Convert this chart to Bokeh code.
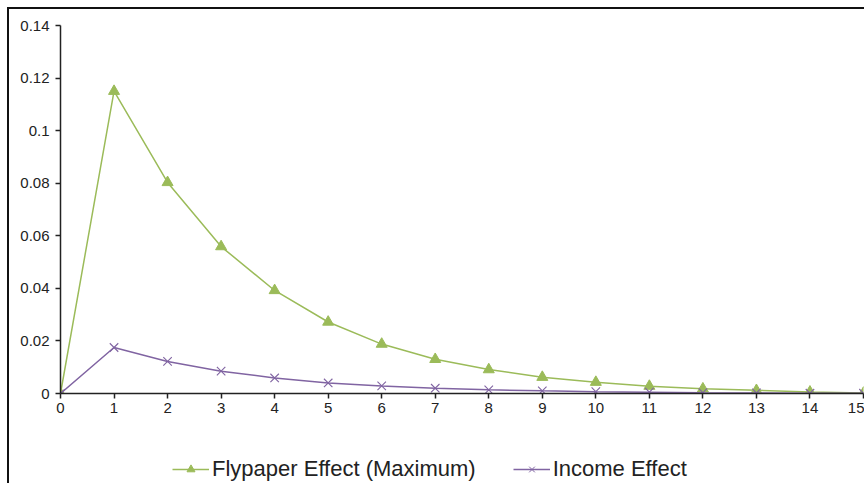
from bokeh.plotting import figure
from bokeh.layouts import column
from bokeh.models import Range1d, FixedTicker, Legend, LegendItem
from bokeh.embed import file_html
from bokeh.resources import INLINE

periods = list(range(16))
flypaper = [0.0, 0.115, 0.0803, 0.0559, 0.0392, 0.0272, 0.0188, 0.0130, 0.0091,
            0.0062, 0.0043, 0.0028, 0.0018, 0.0012, 0.0006, 0.0002]
income = [0.0, 0.0175, 0.0122, 0.0085, 0.0059, 0.0040, 0.0029, 0.0020, 0.0014,
          0.0010, 0.0007, 0.0005, 0.0003, 0.0002, 0.0001, 0.0001]
y_ticks = [0, 0.02, 0.04, 0.06, 0.08, 0.1, 0.12, 0.14]
y_tick_labels = ["0", "0.02", "0.04", "0.06", "0.08", "0.1", "0.12", "0.14"]
series_names = ["Flypaper Effect (Maximum)", "Income Effect"]

GREEN = "#9BBB59"
PURPLE = "#8064A2"
FONT = "Liberation Sans"
EDGE = "2px solid #111"

# main chart
p = figure(width=857, height=414, output_backend="svg", toolbar_location=None,
           x_range=Range1d(0, 15), y_range=Range1d(0, 0.14),
           min_border_left=51, min_border_right=3, min_border_top=16,
           min_border_bottom=30, margin=(7, 0, 0, 7),
           styles={"border-top": EDGE, "border-left": EDGE})

p.outline_line_color = None
p.xgrid.visible = False
p.ygrid.visible = False
p.background_fill_color = "white"
p.border_fill_color = "white"

for ax in (p.xaxis[0], p.yaxis[0]):
    ax.axis_line_color = "#222"
    ax.axis_line_width = 1.5
    ax.major_tick_line_color = "#222"
    ax.major_tick_line_width = 1.5
    ax.major_tick_out = 5
    ax.major_tick_in = 0
    ax.minor_tick_line_color = None
    ax.major_label_text_font = FONT
    ax.major_label_text_font_size = "15px"
    ax.major_label_text_color = "#222"

p.xaxis.ticker = FixedTicker(ticks=periods)
p.xaxis.major_label_standoff = 4
p.yaxis.ticker = FixedTicker(ticks=y_ticks)
p.yaxis.major_label_overrides = {t: s for t, s in zip(y_ticks, y_tick_labels)}
p.yaxis.major_label_standoff = 6

p.line(periods, flypaper, line_color=GREEN, line_width=1.5)
p.scatter(periods, flypaper, marker="triangle", size=11,
          fill_color=GREEN, line_color=GREEN)
p.line(periods, income, line_color=PURPLE, line_width=1.5)
p.scatter(periods, income, marker="x", size=12,
          line_color=PURPLE, line_width=1.1)

# legend strip underneath the chart; its key glyphs sit outside the visible range
lg = figure(width=857, height=62, output_backend="svg", toolbar_location=None,
            x_range=Range1d(0, 1), y_range=Range1d(0, 1),
            x_axis_location=None, y_axis_location=None,
            min_border=0, margin=(0, 0, 0, 7), styles={"border-left": EDGE})
lg.outline_line_color = None
lg.xgrid.visible = False
lg.ygrid.visible = False

off = [-5, -4]
k_fl_line = lg.line(off, off, line_color=GREEN, line_width=1.5)
k_fl_mark = lg.scatter(off, off, marker="triangle", size=8,
                       fill_color=GREEN, line_color=GREEN)
k_in_line = lg.line(off, off, line_color=PURPLE, line_width=1.5)
k_in_mark = lg.scatter(off, off, marker="x", size=8,
                       line_color=PURPLE, line_width=1.0)

legend = Legend(items=[
    LegendItem(label=series_names[0], renderers=[k_fl_line, k_fl_mark]),
    LegendItem(label=series_names[1], renderers=[k_in_line, k_in_mark]),
], orientation="horizontal", location=(112, 1))
legend.label_text_font = FONT
legend.label_text_font_size = "22px"
legend.label_text_color = "#222"
legend.border_line_color = None
legend.background_fill_alpha = 0
legend.glyph_width = 37
legend.label_standoff = 3
legend.spacing = 37
legend.padding = 0
lg.add_layout(legend, "center")

layout = column(p, lg, spacing=0)
open("out.html", "w").write(file_html(layout, INLINE))
